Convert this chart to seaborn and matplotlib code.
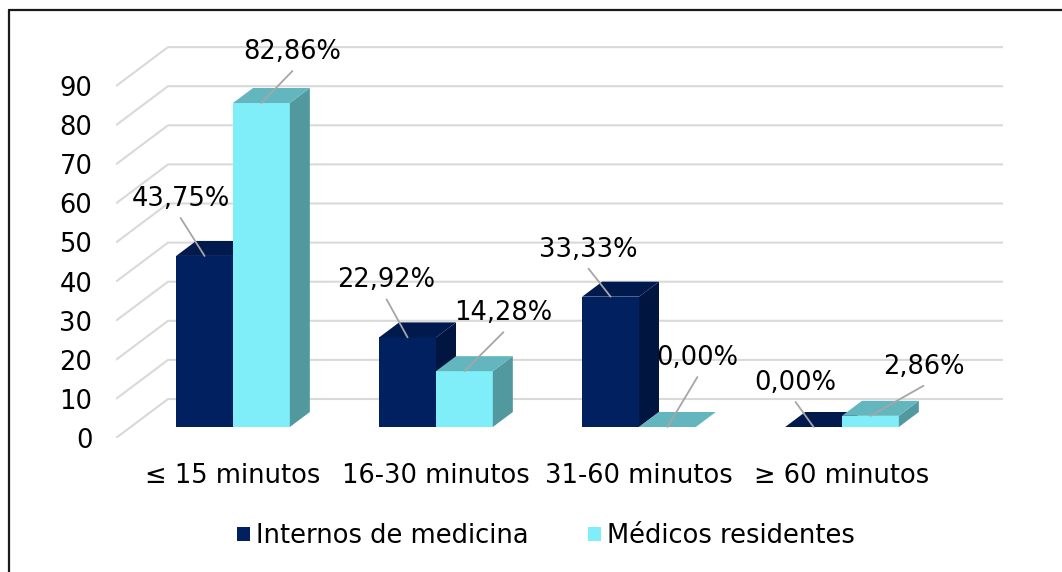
import numpy as np
import pandas as pd
import matplotlib
matplotlib.use("Agg")
import matplotlib.pyplot as plt
from matplotlib.patches import Polygon, Patch
from matplotlib.lines import Line2D
import seaborn as sns

# ---- data -------------------------------------------------------------
categories = ["≤ 15 minutos", "16-30 minutos", "31-60 minutos", "≥ 60 minutos"]
series_names = ["Internos de medicina", "Médicos residentes"]
internos = [43.75, 22.92, 33.33, 0.00]
residentes = [82.86, 14.28, 0.00, 2.86]
y_ticks = [0, 10, 20, 30, 40, 50, 60, 70, 80, 90]

# ---- styling ----------------------------------------------------------
front_colors = ["#002060", "#80EEF8"]
top_colors = ["#001A4E", "#63B6BE"]
side_colors = ["#001641", "#52999F"]
grid_color = "#D9D9D9"
leader_color = "#A6A6A6"

sns.set_style("white")
plt.rcParams["font.family"] = ["DejaVu Sans"]
plt.rcParams["text.color"] = "black"
plt.rcParams["xtick.color"] = "black"
plt.rcParams["ytick.color"] = "black"
FS = 18.5

W, H = 1062, 572
fig = plt.figure(figsize=(W / 100, H / 100), dpi=100)

# axes placed in pixel terms (left, right, top, bottom)
ax_l, ax_r, ax_t, ax_b = 116, 1010, 30, 438
ax = fig.add_axes([ax_l / W, 1 - ax_b / H, (ax_r - ax_l) / W, (ax_b - ax_t) / H])

# scale: pixels per category step and per value unit
px_x = 203.0
x0_px = 233.0
px_y = 3.91
base_px = 427.0  # pixel row of the bar bases

def xpx(px):
    return (px - x0_px) / px_x

def ypx(py):
    return (base_px - py) / px_y

# depth of the bars and of the floor/walls (in data units)
bar_dx, bar_dy = 20 / px_x, 15 / px_y
floor_front = ypx(438)   # front edge of the floor
wall_base = ypx(399)     # back wall base
x_front = xpx(116)
x_back = xpx(168)
x_wall_end = xpx(1003)

# perspective gridlines: side wall diagonals + back wall horizontals
for v in y_ticks:
    ax.plot([x_front, x_back, x_wall_end],
            [floor_front + v, wall_base + v, wall_base + v],
            color=grid_color, lw=1.5, zorder=0.5, solid_capstyle="butt")

# ---- bars -------------------------------------------------------------
df = pd.DataFrame({
    "Tiempo": categories * 2,
    "Grupo": [series_names[0]] * len(categories) + [series_names[1]] * len(categories),
    "Porcentaje": internos + residentes,
})
sns.barplot(data=df, x="Tiempo", y="Porcentaje", hue="Grupo", order=categories,
            hue_order=series_names, palette=front_colors, width=0.56,
            errorbar=None, legend=False, ax=ax, linewidth=0, saturation=1)

# seaborn resets categorical limits, so fix the view afterwards
ax.set_xlim(xpx(ax_l), xpx(ax_r))
ax.set_ylim(ypx(ax_b), ypx(ax_t))

# label placement relative to each bar's top-front centre (pixels)
label_offsets = [
    [(-24, 57), (-21, 57), (-22, 47), (-18, 44)],
    [(31, 51), (39, 58), (30, 69), (53, 49)],
]

for h, container in enumerate(ax.containers):
    z = 2 + h
    for i, bar in enumerate(container):
        bar.set_zorder(z)
        x, w = bar.get_x(), bar.get_width()
        val = bar.get_height()
        top = [(x, val), (x + w, val), (x + w + bar_dx, val + bar_dy), (x + bar_dx, val + bar_dy)]
        side = [(x + w, 0), (x + w + bar_dx, bar_dy), (x + w + bar_dx, val + bar_dy), (x + w, val)]
        ax.add_patch(Polygon(side, closed=True, facecolor=side_colors[h], edgecolor="none", zorder=z))
        ax.add_patch(Polygon(top, closed=True, facecolor=top_colors[h], edgecolor="none", zorder=z))

        dx, dy = label_offsets[h][i]
        anchor = (x + w / 2, val)
        txt = f"{val:.2f}".replace(".", ",") + "%"
        ax.annotate(txt, xy=anchor, xytext=(dx, dy), textcoords="offset pixels",
                    ha="center", va="center", fontsize=FS, color="black", zorder=10)
        ax.annotate("", xy=anchor, xytext=(dx, dy - 19), textcoords="offset pixels",
                    arrowprops=dict(arrowstyle="-", color=leader_color, lw=1.3,
                                    shrinkA=0, shrinkB=0), zorder=9)

# ---- axes text ----------------------------------------------------------
ax.set_yticks([floor_front + v for v in y_ticks])
ax.set_yticklabels([str(v) for v in y_ticks], fontsize=FS, color="black")
ax.set_xticks(range(len(categories)))
ax.set_xticklabels(categories, fontsize=FS, color="black")
ax.tick_params(axis="y", length=0, pad=17)
ax.tick_params(axis="x", length=0, pad=18)
ax.set_xlabel("")
ax.set_ylabel("")
for s in ax.spines.values():
    s.set_visible(False)
ax.grid(False)

handles = [Patch(facecolor=c, edgecolor="none") for c in front_colors]
leg = fig.legend(handles, series_names, loc="center", bbox_to_anchor=(546 / W, 1 - 536 / H),
                 ncol=2, frameon=False, fontsize=FS, handlelength=0.5, handleheight=0.5,
                 handletextpad=0.25, columnspacing=2.3)
for t in leg.get_texts():
    t.set_color("black")

# chart frame (top and left edges)
yt = 1 - 10 / H
xl = 9 / W
fig.add_artist(Line2D([xl, 1], [yt, yt], transform=fig.transFigure, color="#1A1A1A", lw=1.6))
fig.add_artist(Line2D([xl, xl], [0, yt], transform=fig.transFigure, color="#1A1A1A", lw=1.6))

fig.savefig("out.png", dpi=100)
